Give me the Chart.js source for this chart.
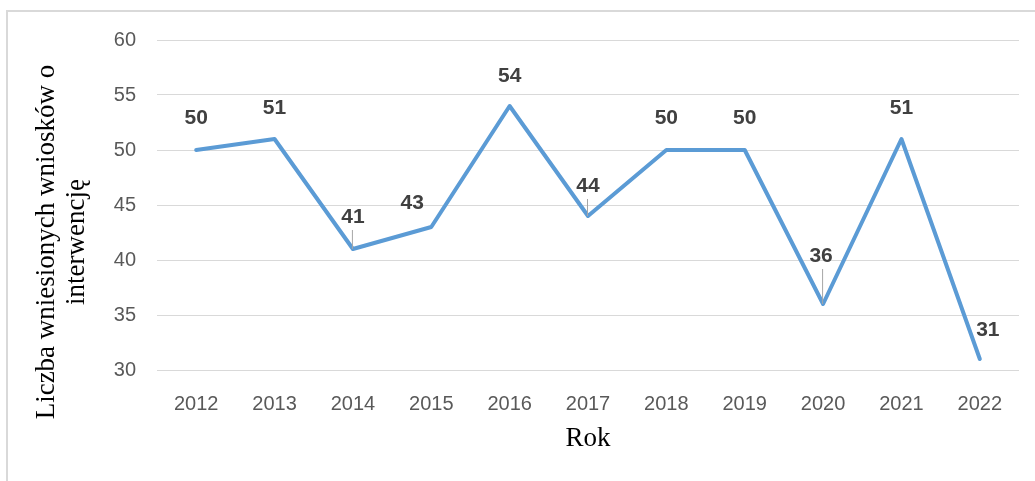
<!DOCTYPE html>
<html>
<head>
<meta charset="utf-8">
<script src="https://cdn.jsdelivr.net/npm/chart.js@4"></script>
<style>
  html, body { margin: 0; padding: 0; background: #fff; }
  #wrap { position: relative; width: 1035px; height: 481px; overflow: hidden; }
  #frame { position: absolute; left: 6px; top: 10px; right: -10px; bottom: -10px;
           border-left: 2px solid #d9d9d9; border-top: 2px solid #d9d9d9; }
  canvas { position: absolute; left: 0; top: 0; }
</style>
</head>
<body>
<div id="wrap">
  <div id="frame"></div>
  <canvas id="c" width="1035" height="481"></canvas>
</div>
<script>
// Wnioski o interwencję, 2012–2022
const years = ["2012", "2013", "2014", "2015", "2016", "2017", "2018", "2019", "2020", "2021", "2022"];
const requests = [50, 51, 41, 43, 54, 44, 50, 50, 36, 51, 31];
const yMin = 30, yMax = 60, yStep = 5;

// where each value label sits relative to its point (px), leader line flag
const labelPos = [
  [0, -32, false], [0, -31, false], [0, -32, true], [-19, -24, false],
  [0, -30, false], [0, -30, true], [0, -32, false], [0, -32, false],
  [-2, -48, true], [0, -31, false], [8, -29, false],
];

const valueLabels = {
  id: "valueLabels",
  afterDatasetsDraw(chart) {
    const { ctx } = chart;
    const pts = chart.getDatasetMeta(0).data;
    ctx.save();
    ctx.font = "bold 21px 'Liberation Sans', Arial, sans-serif";
    ctx.textAlign = "center";
    ctx.textBaseline = "middle";
    pts.forEach((p, i) => {
      const [dx, dy, leader] = labelPos[i];
      const lx = p.x + dx, ly = p.y + dy;
      if (leader) {
        ctx.strokeStyle = "#a6a6a6";
        ctx.lineWidth = 1;
        ctx.beginPath();
        ctx.moveTo(p.x - 0.5, ly + 13);
        ctx.lineTo(p.x - 0.5, p.y);
        ctx.stroke();
      }
      ctx.fillStyle = "#404040";
      ctx.fillText(String(requests[i]), lx, ly);
    });
    ctx.restore();
  },
};

const axisTitles = {
  id: "axisTitles",
  afterDraw(chart) {
    const { ctx, chartArea } = chart;
    ctx.save();
    ctx.fillStyle = "#000";
    ctx.font = "27px 'Liberation Serif', 'Times New Roman', serif";
    ctx.textAlign = "center";
    ctx.textBaseline = "middle";
    ctx.fillText("Rok", (chartArea.left + chartArea.right) / 2, 439);
    ctx.translate(62, 242);
    ctx.rotate(-Math.PI / 2);
    ctx.fillText("Liczba wniesionych wniosków o", 0, -15);
    ctx.fillText("interwencję", 0, 15);
    ctx.restore();
  },
};

new Chart(document.getElementById("c"), {
  type: "line",
  data: {
    labels: years,
    datasets: [{
      data: requests,
      borderColor: "#5b9bd5",
      borderWidth: 4,
      pointRadius: 0,
      tension: 0,
      borderJoinStyle: "round",
      borderCapStyle: "round",
    }],
  },
  options: {
    responsive: false,
    animation: false,
    layout: { padding: { left: 0, top: 40, right: 16, bottom: 0 } },
    plugins: { legend: { display: false }, tooltip: { enabled: false } },
    scales: {
      x: {
        offset: true,
        grid: { display: false },
        border: { display: false },
        ticks: { color: "#595959", font: { size: 20, family: "'Liberation Sans', Arial, sans-serif" }, padding: 14, maxRotation: 0 },
        afterFit(s) { s.height = 111; },
      },
      y: {
        min: yMin, max: yMax,
        grid: { color: "#d9d9d9", lineWidth: 1, drawTicks: false },
        border: { display: false },
        ticks: { stepSize: yStep, color: "#595959", font: { size: 20, family: "'Liberation Sans', Arial, sans-serif" }, padding: 21 },
        afterFit(s) { s.width = 157; },
      },
    },
  },
  plugins: [valueLabels, axisTitles],
});
</script>
</body>
</html>
